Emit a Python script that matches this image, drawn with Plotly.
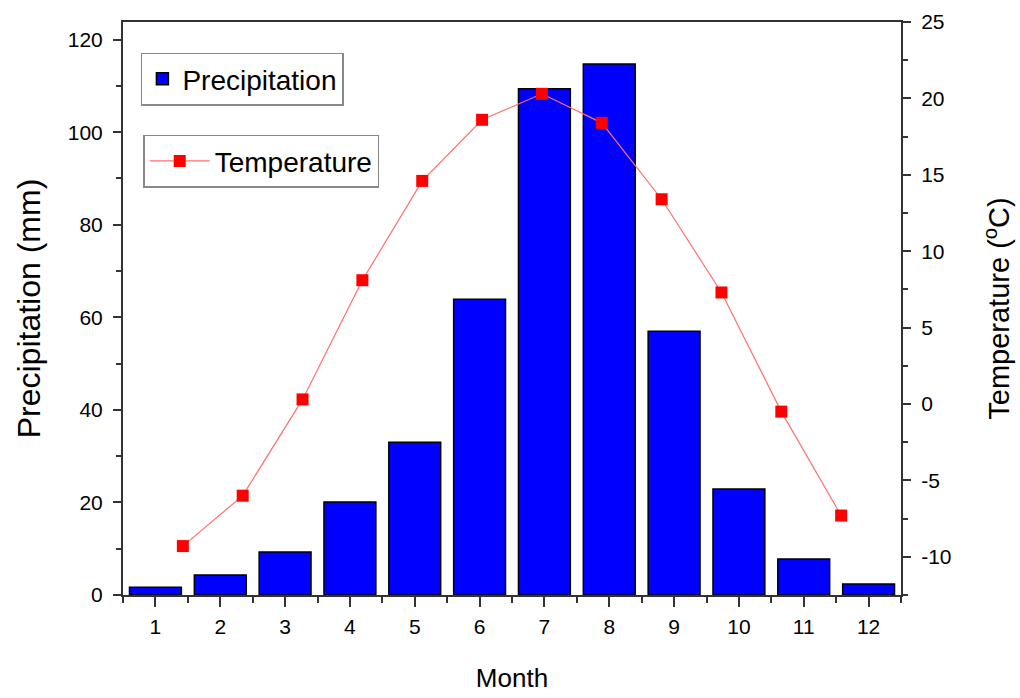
import plotly.graph_objects as go

months = [1, 2, 3, 4, 5, 6, 7, 8, 9, 10, 11, 12]
month_labels = ["1", "2", "3", "4", "5", "6", "7", "8", "9", "10", "11", "12"]
precipitation = [1.7, 4.3, 9.3, 20.1, 33.0, 63.9, 109.4, 114.7, 57.0, 22.9, 7.8, 2.4]
temperature = [-9.3, -6.0, 0.3, 8.1, 14.6, 18.6, 20.3, 18.4, 13.4, 7.3, -0.5, -7.3]
precip_ticks = [0, 20, 40, 60, 80, 100, 120]
temp_ticks = [-10, -5, 0, 5, 10, 15, 20, 25]
temp_tick_labels = ["-10", "-5", "0", "5", "10", "15", "20", "25"]

FONT = "Liberation Sans, Arial, sans-serif"

fig = go.Figure()
fig.add_trace(go.Bar(
    x=months, y=precipitation, name="Precipitation",
    marker=dict(color="#0000FF", line=dict(color="black", width=1.5)),
    width=0.8, xaxis="x", yaxis="y", legend="legend", showlegend=True,
))
fig.add_trace(go.Scatter(
    x=months, y=temperature, name="Temperature", mode="lines+markers",
    line=dict(color="#FF7070", width=1.2),
    marker=dict(symbol="square", size=12, color="#FF0000"),
    xaxis="x2", yaxis="y2", legend="legend2", showlegend=True,
))

axis_font = dict(family=FONT, size=21, color="black")
fig.update_layout(
    width=1020, height=698,
    margin=dict(l=123, r=119, t=22, b=103),
    paper_bgcolor="white", plot_bgcolor="white",
    font=dict(family=FONT, color="black"),
    showlegend=True,
    xaxis=dict(
        range=[0.5, 12.5], tickmode="array", tickvals=months, ticktext=month_labels,
        ticks="outside", ticklen=10, tickwidth=1.5, tickcolor="#333",
        minor=dict(ticks="outside", ticklen=6, tickwidth=1.5, tickcolor="#333", dtick=1, tick0=0.5),
        showline=True, linecolor="#333", linewidth=2, mirror=True,
        showgrid=False, zeroline=False, tickfont=axis_font, automargin=False,
        ticklabelstandoff=2,
        title=dict(text="Month", font=dict(family=FONT, size=26), standoff=32),
    ),
    xaxis2=dict(range=[0, 13], overlaying="x", visible=False, showgrid=False),
    yaxis=dict(
        range=[0, 123.8], tickmode="array", tickvals=precip_ticks,
        ticks="outside", ticklen=8, tickwidth=1.5, tickcolor="#333",
        minor=dict(ticks="outside", ticklen=5, tickwidth=1.5, tickcolor="#333", dtick=10, tick0=0),
        showline=True, linecolor="#333", linewidth=2,
        showgrid=False, zeroline=False, tickfont=axis_font, automargin=False,
        ticklabelstandoff=6,
        title=dict(text="Precipitation (mm)", font=dict(family=FONT, size=32), standoff=18),
    ),
    yaxis2=dict(
        range=[-12.5, 25], overlaying="y", side="right",
        tickmode="array", tickvals=temp_ticks, ticktext=temp_tick_labels,
        ticks="outside", ticklen=8, tickwidth=1.5, tickcolor="#333",
        minor=dict(ticks="outside", ticklen=5, tickwidth=1.5, tickcolor="#333", dtick=2.5, tick0=0),
        showline=True, linecolor="#333", linewidth=2,
        showgrid=False, zeroline=False, tickfont=axis_font, automargin=False,
        ticklabelstandoff=6,
        title=dict(text="Temperature (<sup>o</sup>C)", font=dict(family=FONT, size=29), standoff=38),
    ),
    legend=dict(
        x=0.023, y=0.9005, xanchor="left", yanchor="middle",
        bgcolor="white", bordercolor="#888", borderwidth=1.5,
        font=dict(family=FONT, size=28, color="black"),
    ),
    legend2=dict(
        x=0.026, y=0.757, xanchor="left", yanchor="middle",
        bgcolor="white", bordercolor="#888", borderwidth=1.5,
        font=dict(family=FONT, size=28, color="black"),
        itemwidth=60,
    ),
)

fig.write_html("out.html", post_script="document.body.style.margin='0';",
               config={"displayModeBar": False})
